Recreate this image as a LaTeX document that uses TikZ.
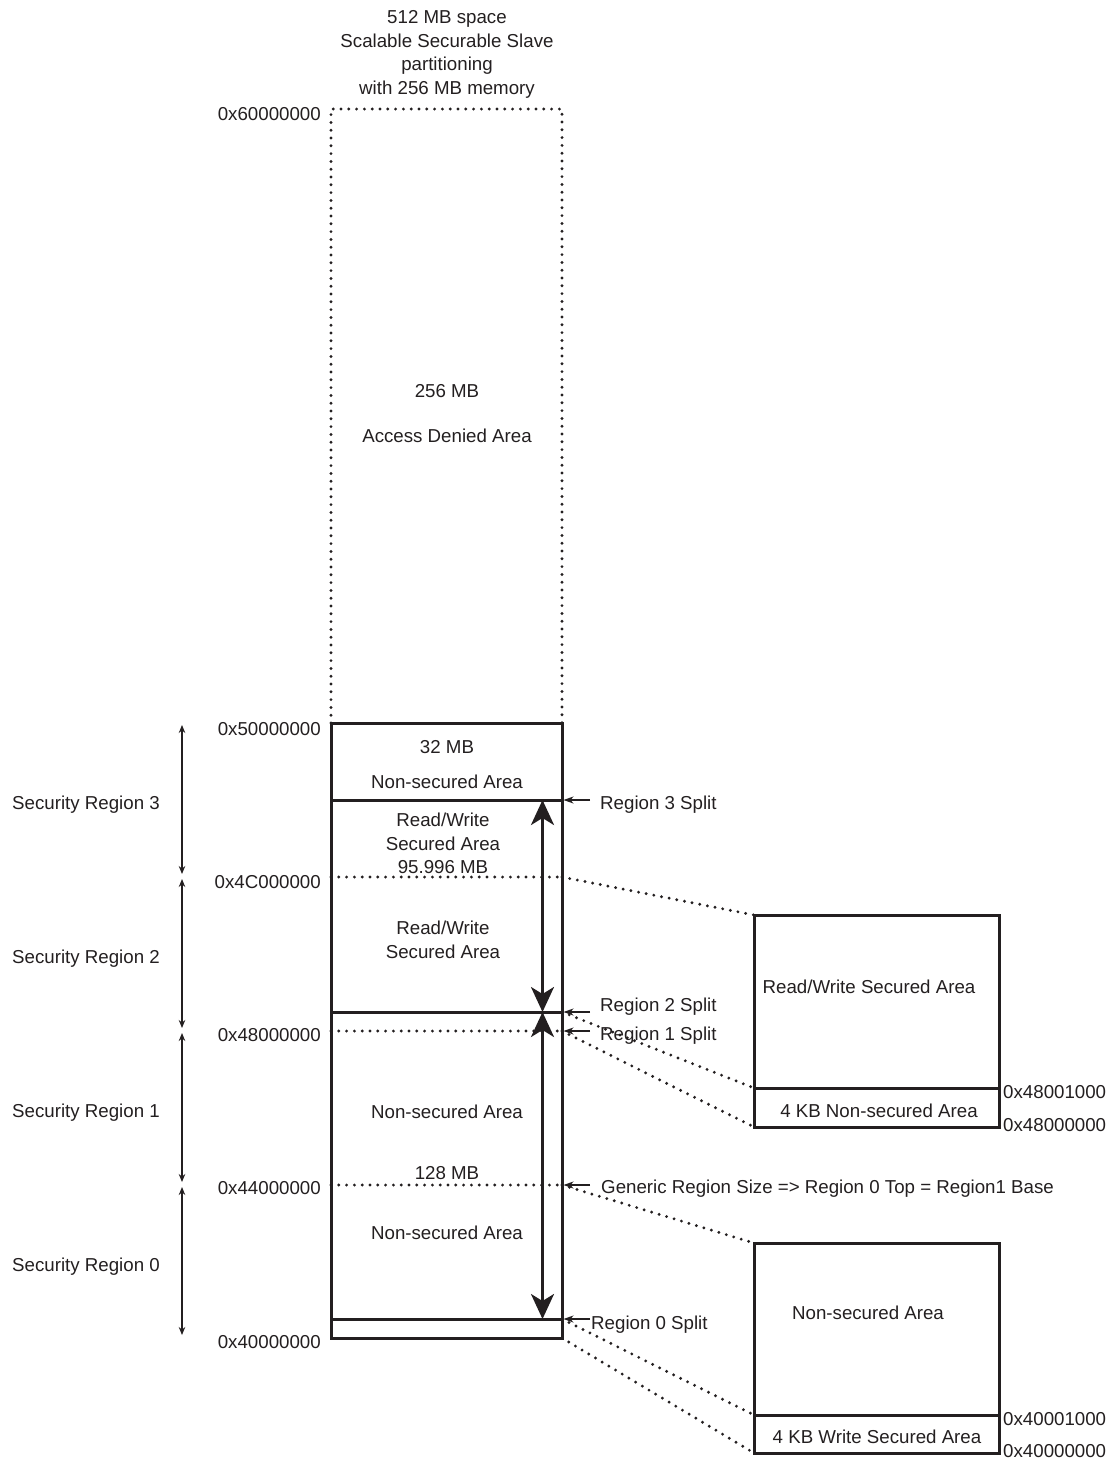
\documentclass[tikz,border=0pt]{standalone}
\usepackage{fontspec}
\setmainfont{Liberation Sans}
\usetikzlibrary{arrows.meta}

\begin{document}
\begin{tikzpicture}[x=1pt,y=-1pt,
	every node/.style={font=\fontsize{18.7}{23.6}\selectfont, inner sep=0pt, text=ink},
	wall/.style={ink, line width=3pt},
	dotline/.style={ink, line width=3.2pt, line cap=round, dash pattern=on 0pt off 7.8pt},
	span/.style={ink, line width=1.2pt, shorten <=2pt, shorten >=3pt, {Stealth[length=8pt,width=6.5pt]}-{Stealth[length=8pt,width=6.5pt]}},
	bigspan/.style={ink, line width=3pt, {Stealth[length=25pt,width=23pt,inset=7pt]}-{Stealth[length=25pt,width=23pt,inset=7pt]}},
	pointer/.style={ink, line width=1.2pt, shorten >=1.5pt, -{Stealth[length=10pt,width=7pt,inset=3pt]}}]
	\definecolor{ink}{RGB}{35,31,32}

	\useasboundingbox (0,0) rectangle (1110,1460);

	\coordinate (L60) at (331,109);
	\coordinate (R60) at (562,109);
	\coordinate (L50) at (331,723);
	\coordinate (R50) at (562,723);
	\coordinate (L3s) at (331,800);
	\coordinate (R3s) at (562,800);
	\coordinate (L4C) at (331,877);
	\coordinate (R4C) at (562,877);
	\coordinate (L2s) at (331,1012);
	\coordinate (R2s) at (562,1012);
	\coordinate (L48) at (331,1031);
	\coordinate (R48) at (562,1031);
	\coordinate (L44) at (331,1185);
	\coordinate (R44) at (562,1185);
	\coordinate (L0s) at (331,1319);
	\coordinate (R0s) at (562,1319);
	\coordinate (L40) at (331,1338);
	\coordinate (R40) at (562,1338);

	\coordinate (rwtop) at (754,915);
	\coordinate (rwmid) at (754,1088);
	\coordinate (rwbot) at (754,1127);
	\coordinate (nstop) at (754,1243);
	\coordinate (nsmid) at (754,1415);
	\coordinate (nsbot) at (754,1453);

	\node[align=center] (title) at (447,54.5) {512 MB space\\Scalable Securable Slave\\partitioning\\with 256 MB memory};

	\draw[dotline] (L50) -- (L60) -- (R60) -- (R50);
	\draw[dotline] (L4C) -- (R4C);
	\draw[dotline] (L48) -- (R48);
	\draw[dotline] (L44) -- (R44);
	\draw[wall] (L50) rectangle (R40);
	\draw[wall] (L3s) -- (R3s);
	\draw[wall] (L2s) -- (R2s);
	\draw[wall] (L0s) -- (R0s);

	\draw[bigspan] ([xshift=-19.5pt]R3s) -- ([xshift=-19.5pt]R2s);
	\draw[bigspan] ([xshift=-19.5pt]R2s) -- ([xshift=-19.5pt]R0s);

	\draw[span] ([xshift=-149pt]L50) -- ([xshift=-149pt]L4C);
	\draw[span] ([xshift=-149pt]L4C) -- ([xshift=-149pt]L48);
	\draw[span] ([xshift=-149pt]L48) -- ([xshift=-149pt]L44);
	\draw[span] ([xshift=-149pt]L44) -- ([xshift=-149pt]L40);

	\node[anchor=base west] (sec3) at (12,809.6) {Security Region 3};
	\node[anchor=base west] (sec2) at (12,963.6) {Security Region 2};
	\node[anchor=base west] (sec1) at (12,1117.6) {Security Region 1};
	\node[anchor=base west] (sec0) at (12,1271.6) {Security Region 0};

	\node[anchor=base east] (a60) at (321,120) {0x60000000};
	\node[anchor=base east] (a50) at (321,735) {0x50000000};
	\node[anchor=base east] (a4C) at (321,888.3) {0x4C000000};
	\node[anchor=base east] (a48) at (321,1041) {0x48000000};
	\node[anchor=base east] (a44) at (321,1194.6) {0x44000000};
	\node[anchor=base east] (a40) at (321,1348.3) {0x40000000};

	\node[anchor=base] (denied) at (447,397.6) {256 MB};
	\node[anchor=base] (deniedtxt) at (447,442.6) {Access Denied Area};
	\node[anchor=base] (top32) at (447,753.3) {32 MB};
	\node[anchor=base] (top32txt) at (447,788.9) {Non-secured Area};
	\node[align=center] (rw3) at (443,843.5) {Read/Write\\Secured Area\\95.996 MB};
	\node[align=center] (rw2) at (443,940) {Read/Write\\Secured Area};
	\node[anchor=base] (ns1) at (447,1118.6) {Non-secured Area};
	\node[anchor=base] (size128) at (447,1179.3) {128 MB};
	\node[anchor=base] (ns0) at (447,1239.3) {Non-secured Area};

	\draw[pointer] ([xshift=28pt]R3s) -- (R3s);
	\draw[pointer] ([xshift=28pt]R2s) -- (R2s);
	\draw[pointer] ([xshift=28pt]R48) -- (R48);
	\draw[pointer] ([xshift=28pt]R44) -- (R44);
	\draw[pointer] ([xshift=28pt]R0s) -- (R0s);
	\node[anchor=base west] (split3) at (600,809.6) {Region 3 Split};
	\node[anchor=base west] (split2) at (600,1011.6) {Region 2 Split};
	\node[anchor=base west] (split1) at (600,1040.6) {Region 1 Split};
	\node[anchor=base west] (generic) at (601,1193.6) {Generic Region Size => Region 0 Top = Region1 Base};
	\node[anchor=base west] (split0) at (591,1329) {Region 0 Split};

	\draw[dotline] (R4C) -- (rwtop);
	\draw[dotline] (R2s) -- (rwmid);
	\draw[dotline] (R48) -- (rwbot);
	\draw[dotline] (R44) -- (nstop);
	\draw[dotline] (R0s) -- (nsmid);
	\draw[dotline] (R40) -- (nsbot);

	\draw[wall] (rwtop) rectangle ([xshift=245pt]rwbot);
	\draw[wall] (rwmid) -- ([xshift=245pt]rwmid);
	\draw[wall] (nstop) rectangle ([xshift=245pt]nsbot);
	\draw[wall] (nsmid) -- ([xshift=245pt]nsmid);

	\node[anchor=base] (rwarea) at (869,993.6) {Read/Write Secured Area};
	\node[anchor=base] (kbns) at (879,1117.6) {4 KB Non-secured Area};
	\node[anchor=base] (nsarea) at (868,1319.6) {Non-secured Area};
	\node[anchor=base] (kbws) at (877,1443.6) {4 KB Write Secured Area};
	\node[anchor=base west] (a481) at (1003,1098.6) {0x48001000};
	\node[anchor=base west] (a480) at (1003,1131.6) {0x48000000};
	\node[anchor=base west] (a401) at (1003,1425.6) {0x40001000};
	\node[anchor=base west] (a400) at (1003,1457) {0x40000000};
\end{tikzpicture}
\end{document}
